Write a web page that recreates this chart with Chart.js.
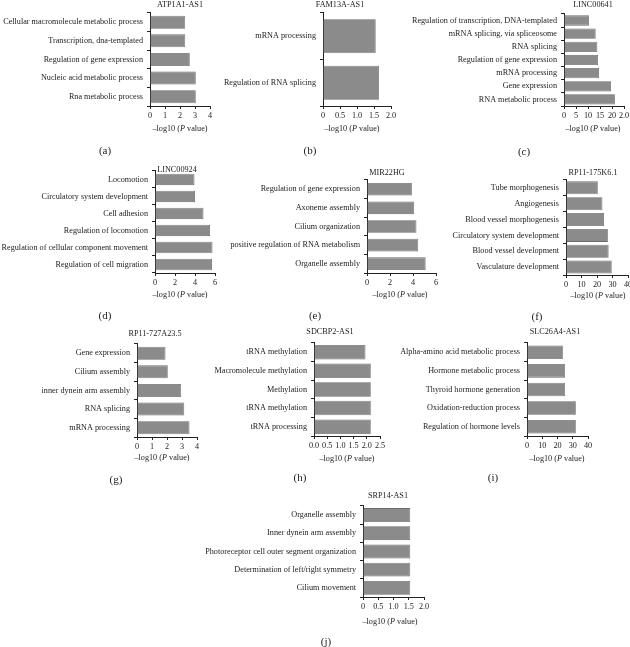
<!DOCTYPE html>
<html><head><meta charset="utf-8">
<script src="https://cdn.jsdelivr.net/npm/chart.js@4.4.1/dist/chart.umd.min.js"></script>
<style>
html,body{margin:0;padding:0;background:#fff;}
#wrap{position:relative;width:630px;height:647px;overflow:hidden;font-family:"Liberation Serif","Times New Roman",serif;color:#222;}
canvas{position:absolute;}
.t{position:absolute;transform:translate(-50%,-50%);white-space:nowrap;font-size:8.2px;line-height:1;}
.p{font-size:11px;}
</style></head><body><div id="wrap"></div>
<script>
// ---------- data ----------
const genesList = ["ATP1A1-AS1","FAM13A-AS1","LINC00641","LINC00924","MIR22HG","RP11-175K6.1","RP11-727A23.5","SDCBP2-AS1","SLC26A4-AS1","SRP14-AS1"];
const panelLetters = ["(a)","(b)","(c)","(d)","(e)","(f)","(g)","(h)","(i)","(j)"];

const catsA = ["Cellular macromolecule metabolic process","Transcription, dna-templated","Regulation of gene expression","Nucleic acid metabolic process","Rna metabolic process"];
const valsA = [2.35, 2.35, 2.65, 3.05, 3.05];
const ticksA = ["0","1","2","3","4"];

const catsB = ["mRNA processing","Regulation of RNA splicing"];
const valsB = [1.55, 1.65];
const ticksB = ["0","0.5","1.0","1.5","2.0"];

const catsC = ["Regulation of transcription, DNA-templated","mRNA splicing, via spliceosome","RNA splicing","Regulation of gene expression","mRNA processing","Gene expression","RNA metabolic process"];
const valsC = [10.4, 13.2, 13.9, 14.2, 14.6, 19.6, 21.2];
const ticksC = ["0","5","10","15","20","2.0"];

const catsD = ["Locomotion","Circulatory system development","Cell adhesion","Regulation of locomotion","Regulation of cellular component movement","Regulation of cell migration"];
const valsD = [3.95, 4.0, 4.85, 5.5, 5.75, 5.7];
const ticksD = ["0","2","4","6"];

const catsE = ["Regulation of gene expression","Axoneme assembly","Cilium organization","positive regulation of RNA metabolism","Organelle assembly"];
const valsE = [3.9, 4.1, 4.3, 4.45, 5.1];
const ticksE = ["0","2","4","6"];

const catsF = ["Tube morphogenesis","Angiogenesis","Blood vessel morphogenesis","Circulatory system development","Blood vessel development","Vasculature development"];
const valsF = [20.5, 23.5, 24.5, 27, 27.5, 29.5];
const ticksF = ["0","10","20","30","40"];

const catsG = ["Gene expression","Cilium assembly","inner dynein arm assembly","RNA splicing","mRNA processing"];
const valsG = [1.9, 2.05, 2.95, 3.15, 3.5];
const ticksG = ["0","1","2","3","4"];

const catsH = ["tRNA methylation","Macromolecule methylation","Methylation","tRNA methylation","tRNA processing"];
const valsH = [1.95, 2.15, 2.15, 2.15, 2.15];
const ticksH = ["0.0","0.5","1.0","1.5","2.0","2.5"];

const catsI = ["Alpha-amino acid metabolic process","Hormone metabolic process","Thyroid hormone generation","Oxidation-reduction process","Regulation of hormone levels"];
const valsI = [23.5, 25, 25, 32, 32];
const ticksI = ["0","10","20","30","40"];

const catsJ = ["Organelle assembly","Inner dynein arm assembly","Photoreceptor cell outer segment organization","Determination of left/right symmetry","Cilium movement"];
const valsJ = [1.55, 1.55, 1.55, 1.55, 1.55];
const ticksJ = ["0","0.5","1.0","1.5","2.0"];

const scaleMax  = [4, 2, 25, 6, 6, 40, 4, 2.5, 40, 2];
const scaleStep = [1, 0.5, 5, 2, 2, 10, 1, 0.5, 10, 0.5];

// ---------- layout (pixel geometry only) ----------
const geo = [
  {L:150, R:210, T:10,  B:106, bp:0.70, gt:[180,5],   at:[180,129], pl:[105,150]},
  {L:323, R:391, T:10,  B:106, bp:0.73, gt:[340,5],   at:[352,129], pl:[310,150]},
  {L:564, R:624, T:11,  B:106, bp:0.78, gt:[593,5],   at:[593,129], pl:[524,151]},
  {L:155, R:215, T:168, B:273, bp:0.67, gt:[177,170], at:[180,295], pl:[105,315]},
  {L:367, R:436, T:177, B:273, bp:0.68, gt:[387,173], at:[400,295], pl:[315,315]},
  {L:566, R:628, T:177, B:275, bp:0.82, gt:[593,173], at:[598,296], pl:[537,316]},
  {L:137, R:197, T:341, B:437, bp:0.70, gt:[155,334], at:[162,458], pl:[116,479]},
  {L:314, R:380, T:340, B:436, bp:0.78, gt:[330,332], at:[347,459], pl:[300,477]},
  {L:527, R:588, T:340, B:436, bp:0.73, gt:[555,332], at:[557,459], pl:[493,477]},
  {L:363, R:424, T:503, B:597, bp:0.76, gt:[388,496], at:[390,622], pl:[326,641]}
];

const allCats = [catsA,catsB,catsC,catsD,catsE,catsF,catsG,catsH,catsI,catsJ];
const allVals = [valsA,valsB,valsC,valsD,valsE,valsF,valsG,valsH,valsI,valsJ];
const allTicks = [ticksA,ticksB,ticksC,ticksD,ticksE,ticksF,ticksG,ticksH,ticksI,ticksJ];

const wrap = document.getElementById('wrap');
const FONT = {family:'"Liberation Serif","Times New Roman",serif', size:8.2};
const TXT = '#222';

function addText(html, cx, cy, cls){
  const d = document.createElement('div');
  d.className = 't' + (cls ? ' ' + cls : '');
  d.innerHTML = html;
  d.style.left = cx + 'px';
  d.style.top = cy + 'px';
  wrap.appendChild(d);
}

for (let k = 0; k < 10; k++) {
  const g = geo[k];
  const Wy = Math.min(175, g.L);
  const PADT = 6, PADR = 12, HX = 16;
  const cw = g.R - g.L + Wy + PADR;
  const ch = g.B - g.T + PADT + HX;
  const c = document.createElement('canvas');
  c.width = cw; c.height = ch;
  c.style.left = (g.L - Wy) + 'px';
  c.style.top = (g.T - PADT) + 'px';
  c.style.width = cw + 'px'; c.style.height = ch + 'px';
  wrap.appendChild(c);
  const tl = allTicks[k];
  new Chart(c, {
    type: 'bar',
    data: {
      labels: allCats[k],
      datasets: [{
        data: allVals[k],
        backgroundColor: '#8b8b8b',
        borderColor: '#6a6a6a',
        borderWidth: 0.8,
        barPercentage: g.bp,
        categoryPercentage: 1
      }]
    },
    options: {
      indexAxis: 'y',
      responsive: false,
      animation: false,
      devicePixelRatio: 1,
      layout: {padding: {left: 0, right: PADR, top: PADT, bottom: 0}},
      plugins: {legend: {display: false}, tooltip: {enabled: false}, title: {display: false}},
      scales: {
        x: {
          min: 0, max: scaleMax[k],
          afterFit: s => { s.height = HX; },
          grid: {display: true, drawOnChartArea: false, drawTicks: true, tickLength: 3, color: '#222'},
          border: {display: true, color: '#222', width: 1},
          ticks: {
            stepSize: scaleStep[k], autoSkip: false, maxRotation: 0, minRotation: 0,
            padding: 2, color: TXT, font: FONT,
            callback: (v, i) => tl[i] !== undefined ? tl[i] : v
          }
        },
        y: {
          afterFit: s => { s.width = Wy; },
          grid: {display: true, drawOnChartArea: false, drawTicks: true, tickLength: 3, color: '#222'},
          border: {display: true, color: '#222', width: 1},
          ticks: {autoSkip: false, padding: 4, color: TXT, font: FONT}
        }
      }
    }
  });
  addText(genesList[k], g.gt[0], g.gt[1]);
  addText('–log10 (<i>P</i> value)', g.at[0], g.at[1]);
  addText(panelLetters[k], g.pl[0], g.pl[1], 'p');
}
</script>
</body></html>
